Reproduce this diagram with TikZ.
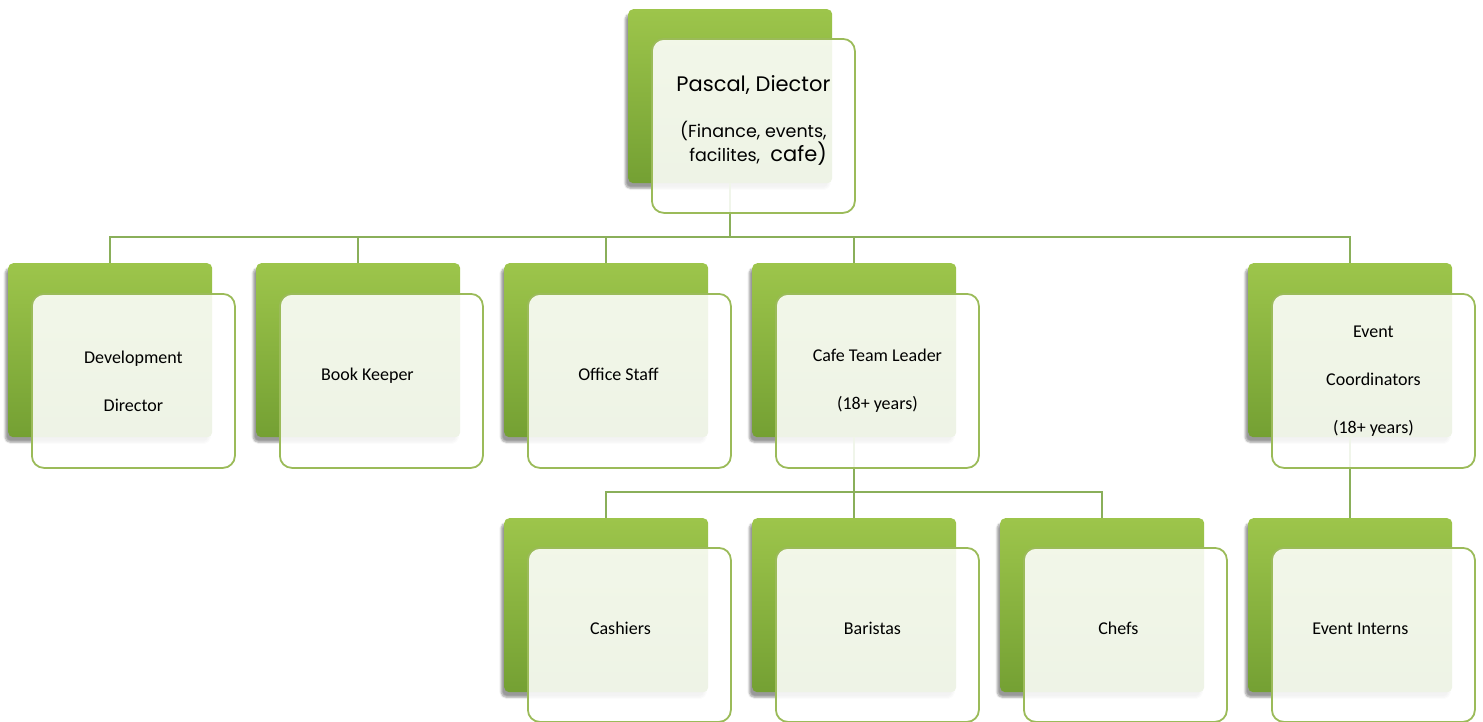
\documentclass[tikz,border=0pt]{standalone}
\usepackage{fontspec}
\setmainfont{Carlito}
\newfontfamily\gothic{Poppins}
\usetikzlibrary{shadows.blur,calc}
\definecolor{gtop}{HTML}{9DC54B}
\definecolor{gbot}{HTML}{74A033}
\definecolor{bord}{HTML}{9BBB59}
\definecolor{connc}{HTML}{8AAF5A}
\newcommand{\lefttext}[2]{\hbox{#1\kern#2}}
\begin{document}
\begin{tikzpicture}[x=1pt,y=-1pt,
  gbox/.style={anchor=north west, minimum width=204pt, minimum height=174pt, inner sep=0pt,
    rounded corners=5pt, top color=gtop, bottom color=gbot, draw=none,
    blur shadow={shadow xshift=-3pt, shadow yshift=-5pt, shadow blur steps=6, shadow opacity=40}},
  wbox/.style={anchor=north west, minimum width=203pt, minimum height=174pt, inner sep=0pt,
    rounded corners=12pt, fill=white, fill opacity=0.88, text opacity=1, draw=bord, draw opacity=1,
    line width=1.8pt, align=center, font=\fontsize{18}{48}\selectfont},
  oneline/.style={text height=12pt, text depth=12pt},
  conn/.style={draw=connc, line width=2pt}]
\useasboundingbox (0,0) rectangle (1483,721);
\coordinate (bus1) at (0,237);
\coordinate (bus2) at (0,492);
% back boxes
\node[gbox] (rootG) at (628,9) {};
\node[gbox] (devG) at (8,263) {};
\node[gbox] (bookG) at (256,263) {};
\node[gbox] (offG) at (504,263) {};
\node[gbox] (cafeG) at (752,263) {};
\node[gbox] (evG) at (1248,263) {};
\node[gbox] (cashG) at (504,518) {};
\node[gbox] (barG) at (752,518) {};
\node[gbox] (chefG) at (1000,518) {};
\node[gbox] (intG) at (1248,518) {};
% connectors
\foreach \c in {devG,bookG,offG,cafeG,evG}
  \draw[conn] (rootG.south) -- (rootG.south |- bus1) -| (\c.north);
\foreach \c in {cashG,barG,chefG}
  \draw[conn] (cafeG.south) -- (cafeG.south |- bus2) -| (\c.north);
\draw[conn] (evG.south) -- (intG.north);
% front boxes
\node[wbox, font=\gothic\fontsize{21}{24}\selectfont, text depth=14pt] (root) at (651,38)
  {Pascal, Diector\\[22pt]{\fontsize{17.5}{24}\selectfont (Finance, events,}\\{\fontsize{17.5}{24}\selectfont\ \ facilites,\ } cafe)};
\node[wbox] (dev) at (31,293) {Development\\Director};
\node[wbox, oneline] (book) at (279,293) {\lefttext{Book Keeper}{28pt}};
\node[wbox, oneline] (off) at (527,293) {\lefttext{Office Staff}{22pt}};
\node[wbox] (cafe) at (775,293) {Cafe Team Leader\\(18+ years)};
\node[wbox] (ev) at (1271,293) {Event\\Coordinators\\(18+ years)};
\node[wbox, oneline] (cash) at (527,547) {\lefttext{Cashiers}{18pt}};
\node[wbox, oneline] (bar) at (775,547) {\lefttext{Baristas}{10pt}};
\node[wbox, oneline] (chef) at (1023,547) {\lefttext{Chefs}{14pt}};
\node[wbox, oneline] (int) at (1271,547) {\lefttext{Event Interns}{26pt}};
\end{tikzpicture}
\end{document}
